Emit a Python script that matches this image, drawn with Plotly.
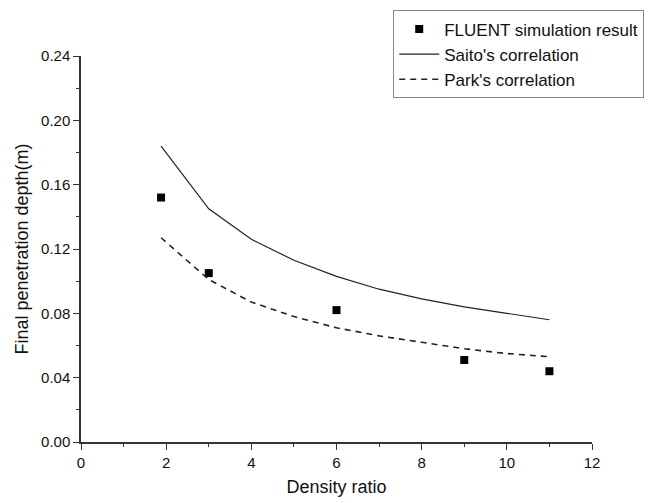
import plotly.graph_objects as go

# Data
sim_x = [1.88, 3, 6, 9, 11]
sim_y = [0.152, 0.105, 0.082, 0.051, 0.044]

corr_x = [1.88, 3, 4, 5, 6, 7, 8, 9, 10, 11]
saito_y = [0.184, 0.145, 0.126, 0.113, 0.103, 0.095, 0.089, 0.084, 0.080, 0.076]
park_y = [0.127, 0.101, 0.087, 0.078, 0.071, 0.066, 0.062, 0.058, 0.055, 0.053]

x_ticks = [0, 2, 4, 6, 8, 10, 12]
y_ticks = [0.00, 0.04, 0.08, 0.12, 0.16, 0.20, 0.24]

FONT = "Liberation Sans, Arial, sans-serif"

fig = go.Figure()
fig.add_trace(go.Scatter(
    x=sim_x, y=sim_y, mode="markers", name="FLUENT simulation result",
    marker=dict(symbol="square", size=8, color="black"),
))
fig.add_trace(go.Scatter(
    x=corr_x, y=saito_y, mode="lines", name="Saito's correlation",
    line=dict(color="#222222", width=1.2),
))
fig.add_trace(go.Scatter(
    x=corr_x, y=park_y, mode="lines", name="Park's correlation",
    line=dict(color="#222222", width=1.6, dash="6px,5px"),
))

axis_common = dict(
    showline=True, linecolor="#333333", linewidth=1.5,
    ticks="outside", ticklen=6, tickwidth=1.3, tickcolor="#333333",
    showgrid=False, zeroline=False, mirror=False,
    tickfont=dict(family=FONT, size=15, color="#111111"),
)

fig.update_xaxes(
    range=[0, 12], tickvals=x_ticks, ticktext=[str(v) for v in x_ticks],
    minor=dict(dtick=1, ticks="outside", ticklen=3, tickwidth=1.2, tickcolor="#333333"),
    title=dict(text="Density ratio", font=dict(family=FONT, size=18, color="#111111"), standoff=11),
    **axis_common,
)
fig.update_yaxes(
    range=[0, 0.24], tickvals=y_ticks, ticktext=[f"{v:.2f}" for v in y_ticks],
    minor=dict(dtick=0.02, ticks="outside", ticklen=3, tickwidth=1.2, tickcolor="#333333"),
    title=dict(text="Final penetration depth(m)", font=dict(family=FONT, size=18, color="#111111"), standoff=8),
    **axis_common,
)

fig.update_layout(
    width=649, height=495,
    margin=dict(l=73, r=65, t=48, b=61, autoexpand=False),
    paper_bgcolor="white", plot_bgcolor="white",
    font=dict(family=FONT, size=17, color="#111111"),
    legend=dict(
        x=0.611, y=1.118, xanchor="left", yanchor="top",
        bgcolor="white", bordercolor="#888888", borderwidth=1,
        font=dict(family=FONT, size=17, color="#111111"),
        tracegroupgap=0, itemwidth=40,
    ),
)

fig.write_html("out.html")
